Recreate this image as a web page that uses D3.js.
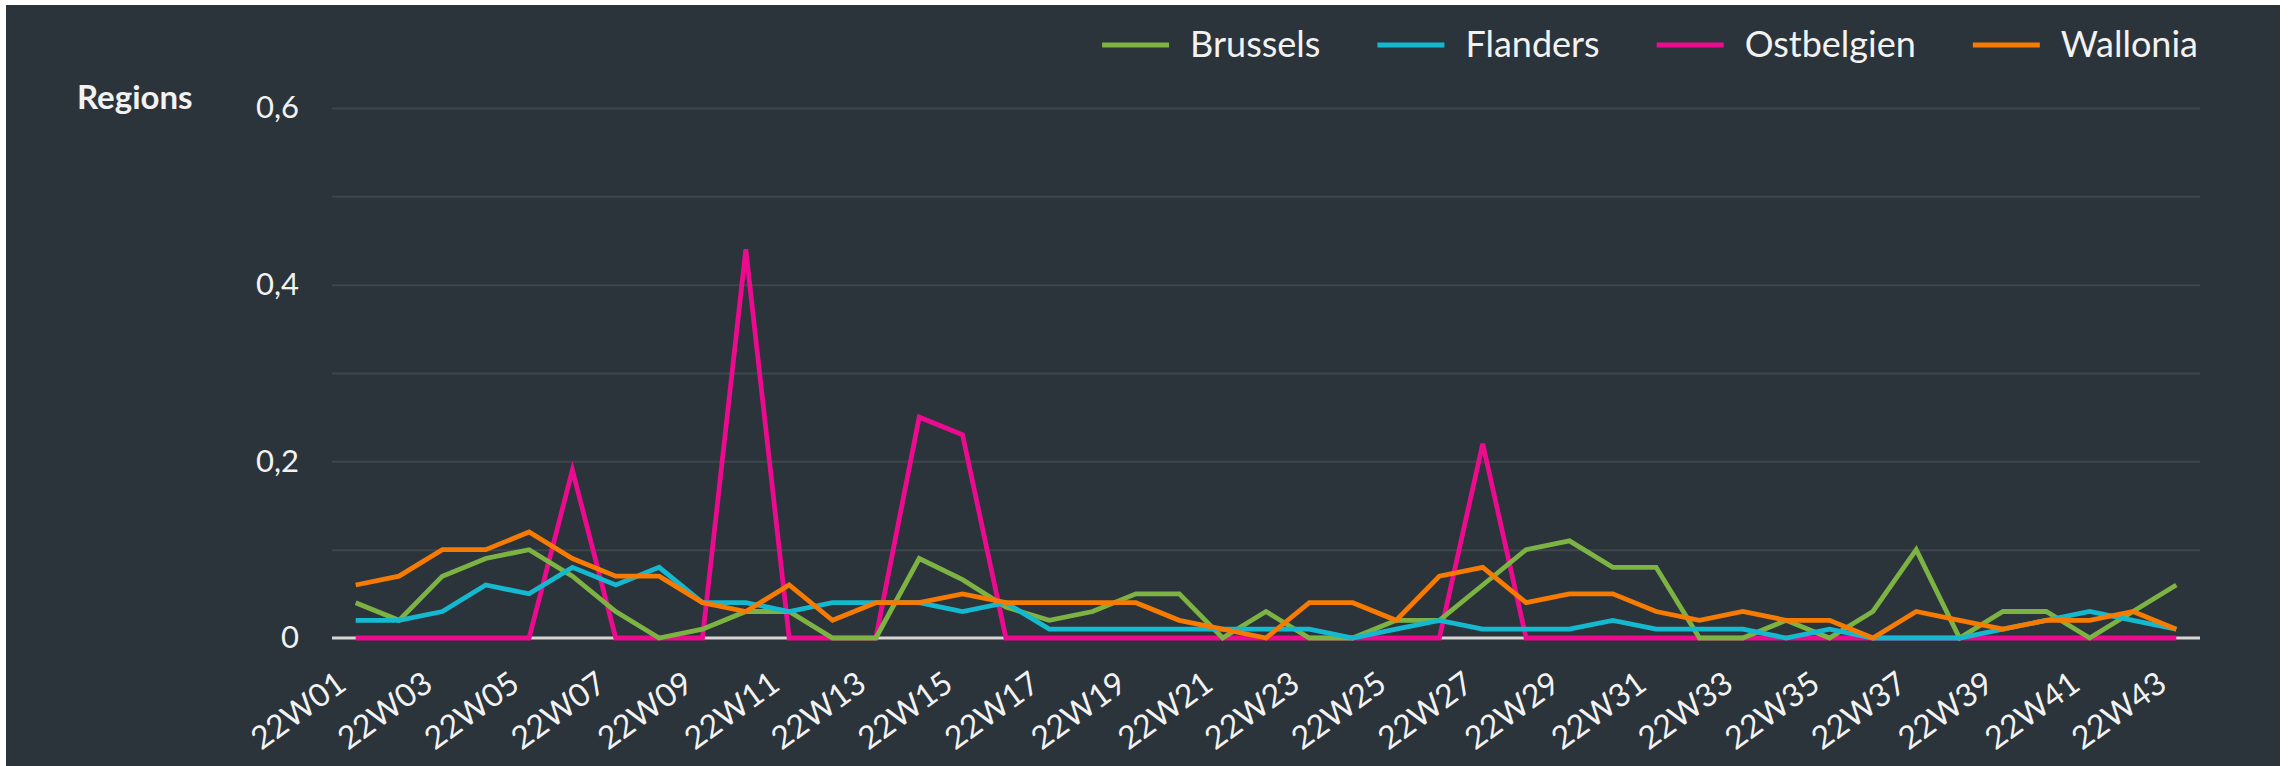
<!DOCTYPE html>
<html lang="en">
    <head>
        <meta charset="utf-8">
        <title>Regions</title>
        <script src="https://d3js.org/d3.v7.min.js"></script>
        <style type="text/css">
            body { margin: 0; background: #ffffff; }
            text { font-family: Lato, "Open Sans", sans-serif; fill: #f2f2f2; }
        </style>
    </head>
    <body>
        <script type="text/javascript">
            // weeks on the x axis
            let weeks = d3.range(1, 44).map(n => "22W" + String(n).padStart(2, "0"));
            let xTickLabels = weeks.filter((d, i) => i % 2 === 0);
            let yTickLabels = [0, 0.2, 0.4, 0.6];
            let gridValues = [0.1, 0.2, 0.3, 0.4, 0.5, 0.6];

            let seriesNames = ["Brussels", "Flanders", "Ostbelgien", "Wallonia"];
            let seriesColors = ["#7cb342", "#14b9d0", "#ec0a8f", "#f77b00"];

            let brussels = [0.04, 0.02, 0.07, 0.09, 0.10, 0.07, 0.03, 0.00, 0.01, 0.03,
                            0.03, 0.00, 0.00, 0.09, 0.066, 0.035, 0.02, 0.03, 0.05, 0.05,
                            0.00, 0.03, 0.00, 0.00, 0.02, 0.02, 0.06, 0.10, 0.11, 0.08,
                            0.08, 0.00, 0.00, 0.02, 0.00, 0.03, 0.10, 0.00, 0.03, 0.03,
                            0.00, 0.03, 0.06];
            let flanders = [0.02, 0.02, 0.03, 0.06, 0.05, 0.08, 0.06, 0.08, 0.04, 0.04,
                            0.03, 0.04, 0.04, 0.04, 0.03, 0.04, 0.01, 0.01, 0.01, 0.01,
                            0.01, 0.01, 0.01, 0.00, 0.01, 0.02, 0.01, 0.01, 0.01, 0.02,
                            0.01, 0.01, 0.01, 0.00, 0.01, 0.00, 0.00, 0.00, 0.01, 0.02,
                            0.03, 0.02, 0.01];
            let ostbelgien = [0, 0, 0, 0, 0, 0.19, 0, 0, 0, 0.44,
                              0, 0, 0, 0.25, 0.23, 0, 0, 0, 0, 0,
                              0, 0, 0, 0, 0, 0, 0.22, 0, 0, 0,
                              0, 0, 0, 0, 0, 0, 0, 0, 0, 0,
                              0, 0, 0];
            let wallonia = [0.06, 0.07, 0.10, 0.10, 0.12, 0.09, 0.07, 0.07, 0.04, 0.03,
                            0.06, 0.02, 0.04, 0.04, 0.05, 0.04, 0.04, 0.04, 0.04, 0.02,
                            0.01, 0.00, 0.04, 0.04, 0.02, 0.07, 0.08, 0.04, 0.05, 0.05,
                            0.03, 0.02, 0.03, 0.02, 0.02, 0.00, 0.03, 0.02, 0.01, 0.02,
                            0.02, 0.03, 0.01];
            let seriesValues = [brussels, flanders, ostbelgien, wallonia];
            // drawing order, last on top
            let drawOrder = [2, 0, 1, 3];

            let w = 2290;
            let h = 766;
            let plotLeft = 332, plotRight = 2200, plotTop = 108, plotBottom = 638;

            let xScale = d3.scalePoint()
                            .domain(weeks)
                            .range([plotLeft + 2, plotRight - 2])
                            .padding(0.5);
            let yScale = d3.scaleLinear()
                            .domain([0, 0.6])
                            .range([plotBottom, plotTop]);

            let locale = d3.formatLocale({decimal: ",", thousands: ".", grouping: [3], currency: ["", "€"]});
            let fmt = locale.format("~f");

            let svg = d3.select("body")
                        .append("svg")
                        .attr("width", w)
                        .attr("height", h);

            svg.append("rect")
                .attr("x", 6)
                .attr("y", 5)
                .attr("width", 2274)
                .attr("height", h - 5)
                .attr("fill", "#2b343b");

            // grid lines
            svg.append("g")
                .attr("transform", "translate(" + plotLeft + ",0)")
                .call(d3.axisLeft(yScale).tickValues(gridValues).tickSize(-(plotRight - plotLeft)).tickFormat(""))
                .call(g => g.select(".domain").remove())
                .call(g => g.selectAll("line").attr("stroke", "#3e464c").attr("stroke-width", 2));

            // y labels
            svg.append("g")
                .attr("transform", "translate(299,0)")
                .call(d3.axisLeft(yScale).tickValues(yTickLabels).tickSize(0).tickPadding(0).tickFormat(fmt))
                .call(g => g.select(".domain").remove())
                .call(g => g.selectAll("text")
                    .attr("fill", "#f2f2f2")
                    .style("font-size", "31px"));

            // baseline
            svg.append("line")
                .attr("x1", plotLeft)
                .attr("x2", plotRight)
                .attr("y1", yScale(0))
                .attr("y2", yScale(0))
                .attr("stroke", "#d6d6d6")
                .attr("stroke-width", 3);

            // x labels
            svg.append("g")
                .attr("transform", "translate(0," + plotBottom + ")")
                .call(d3.axisBottom(xScale).tickValues(xTickLabels).tickSize(0).tickPadding(0))
                .call(g => g.select(".domain").remove())
                .call(g => g.selectAll("text")
                    .attr("fill", "#f2f2f2")
                    .style("font-size", "32px")
                    .attr("text-anchor", "end")
                    .attr("y", 0)
                    .attr("dy", 0)
                    .attr("transform", "translate(-8,50) rotate(-36)"));

            // lines
            let line = d3.line()
                        .x((d, i) => xScale(weeks[i]))
                        .y(d => yScale(d));

            drawOrder.forEach(function(k) {
                svg.append("path")
                    .datum(seriesValues[k])
                    .attr("fill", "none")
                    .attr("stroke", seriesColors[k])
                    .attr("stroke-width", 4.8)
                    .attr("d", line);
            });

            // title
            svg.append("text")
                .attr("x", 77)
                .attr("y", 109)
                .style("font-size", "33px")
                .style("font-weight", "bold")
                .text("Regions");

            // legend, laid out from the right
            let legend = svg.append("g");
            let items = legend.selectAll("g")
                .data(seriesNames)
                .enter()
                .append("g");
            items.append("text")
                .attr("x", 88)
                .attr("y", 44)
                .attr("dy", "0.35em")
                .style("font-size", "36px")
                .text(d => d);
            items.append("line")
                .attr("x1", 0)
                .attr("x2", 67)
                .attr("y1", 45)
                .attr("y2", 45)
                .attr("stroke-width", 5)
                .attr("stroke", (d, i) => seriesColors[i]);

            let widths = [];
            items.select("text").each(function() { widths.push(this.getComputedTextLength()); });
            let cursor = 2198;
            let starts = [];
            for (let i = seriesNames.length - 1; i >= 0; i--) {
                cursor -= 88 + widths[i];
                starts[i] = cursor;
                cursor -= 57;
            }
            items.attr("transform", (d, i) => "translate(" + starts[i] + ",0)");
        </script>
    </body>
</html>
